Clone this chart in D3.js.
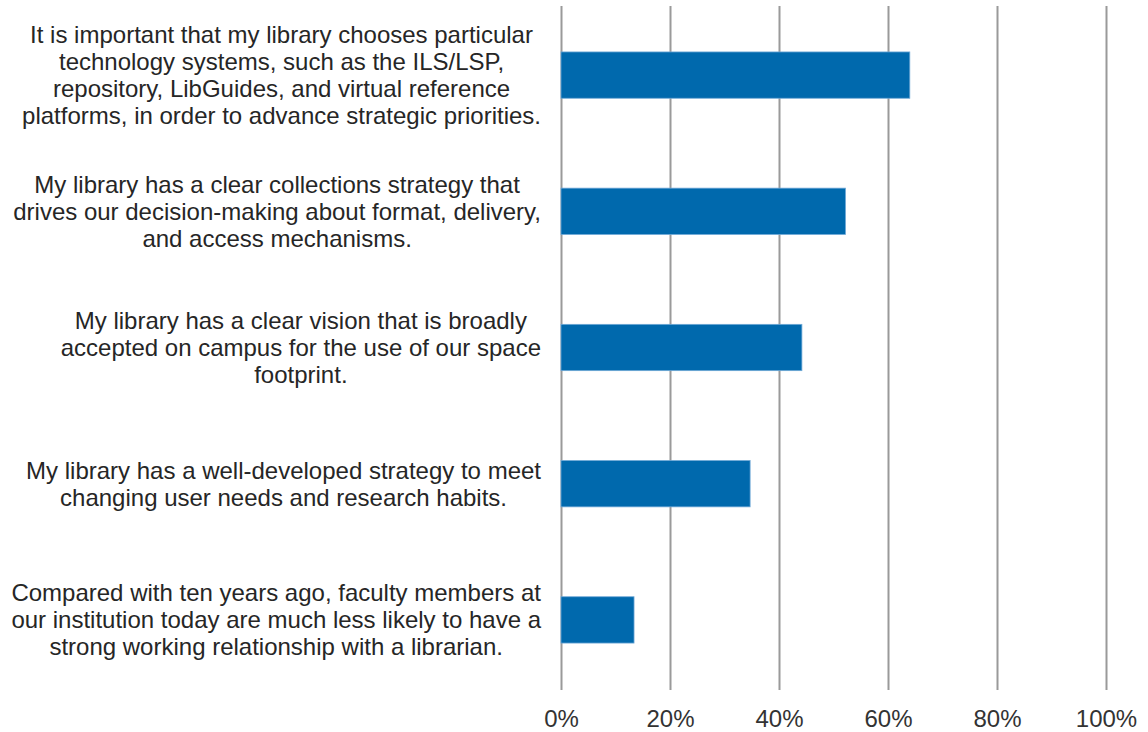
<!DOCTYPE html>
<html>
<head>
<meta charset="utf-8">
<script src="https://cdn.jsdelivr.net/npm/d3@7"></script>
<style>
  body { margin: 0; background: #fff; }
  text { font-family: "Liberation Sans", Arial, sans-serif; }
</style>
</head>
<body>
<div id="main"></div>
<script>
const width = 1148;
const height = 732;

const categories = [
  "It is important that my library chooses particular technology systems, such as the ILS/LSP, repository, LibGuides, and virtual reference platforms, in order to advance strategic priorities.",
  "My library has a clear collections strategy that drives our decision-making about format, delivery, and access mechanisms.",
  "My library has a clear vision that is broadly accepted on campus for the use of our space footprint.",
  "My library has a well-developed strategy to meet changing user needs and research habits.",
  "Compared with ten years ago, faculty members at our institution today are much less likely to have a strong working relationship with a librarian.",
];
const labelLines = [
  [
    "It is important that my library chooses particular",
    "technology systems, such as the ILS/LSP,",
    "repository, LibGuides, and virtual reference",
    "platforms, in order to advance strategic priorities.",
  ],
  [
    "My library has a clear collections strategy that",
    "drives our decision-making about format, delivery,",
    "and access mechanisms.",
  ],
  [
    "My library has a clear vision that is broadly",
    "accepted on campus for the use of our space",
    "footprint.",
  ],
  [
    "My library has a well-developed strategy to meet",
    "changing user needs and research habits.",
  ],
  [
    "Compared with ten years ago, faculty members at",
    "our institution today are much less likely to have a",
    "strong working relationship with a librarian.",
  ],
];
const values = [64.0, 52.2, 44.2, 34.7, 13.4];
const tickValues = [0, 20, 40, 60, 80, 100];

const svg = d3
  .select("#main")
  .append("svg")
  .attr("width", width)
  .attr("height", height);

const x = d3.scaleLinear().domain([0, 100]).range([561, 1106]);
const y = d3
  .scaleBand()
  .domain(categories)
  .range([7, 688])
  .paddingInner(0.66)
  .paddingOuter(0.33);

// gridlines + tick labels
const axisY = 690;
const xAxis = svg
  .append("g")
  .attr("transform", `translate(0,${axisY})`)
  .call(
    d3
      .axisBottom(x)
      .tickValues(tickValues)
      .tickSize(-(axisY - 6))
      .tickPadding(20)
      .tickFormat((d) => d + "%")
  );
xAxis.select(".domain").remove();
xAxis.selectAll(".tick line").attr("stroke", "#9a9a9a").attr("stroke-width", 2);
xAxis
  .selectAll(".tick text")
  .attr("font-size", 24)
  .attr("font-family", '"Liberation Sans", Arial, sans-serif')
  .attr("fill", "#333");

// bars
svg
  .append("g")
  .selectAll("rect")
  .data(values)
  .enter()
  .append("rect")
  .attr("x", x(0))
  .attr("y", (d, i) => y(categories[i]))
  .attr("width", (d) => x(d) - x(0))
  .attr("height", y.bandwidth())
  .attr("fill", "#0069ad")
  .attr("stroke", "#6fa8d6")
  .attr("stroke-width", 0.8);

// category labels: lines centred in a block right-aligned to the axis
const labelRight = 541;
const lineH = 27;
const labels = svg
  .append("g")
  .selectAll("text")
  .data(labelLines)
  .enter()
  .append("text")
  .attr("font-size", 24)
  .attr("fill", "#262626")
  .attr("text-anchor", "middle");

labels.each(function (lines, i) {
  const t = d3.select(this);
  const cy = y(categories[i]) + y.bandwidth() / 2;
  const top = cy - ((lines.length - 1) * lineH) / 2;
  lines.forEach((ln, j) => {
    t.append("tspan").attr("y", top + j * lineH).attr("dy", "0.35em").text(ln);
  });
  let maxW = 0;
  t.selectAll("tspan").each(function () {
    maxW = Math.max(maxW, this.getComputedTextLength());
  });
  t.selectAll("tspan").attr("x", labelRight - maxW / 2);
});
</script>
</body>
</html>
